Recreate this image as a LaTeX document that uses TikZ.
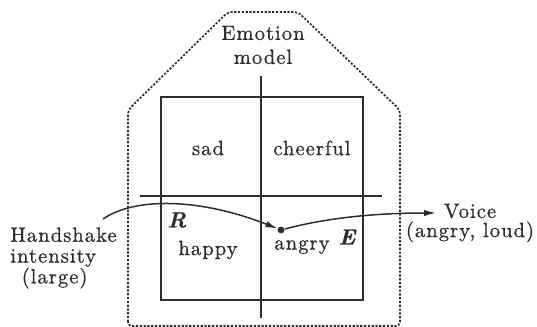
\documentclass[tikz,border=0pt]{standalone}
\usepackage{fontspec}
\setmainfont{Latin Modern Roman}[LetterSpace=5,FakeBold=0.8]
\usepackage{tikz}
\usetikzlibrary{arrows.meta,positioning}
\definecolor{inkdark}{RGB}{45,45,45}

\begin{document}
\begin{tikzpicture}[
  x=0.5pt, y=-0.5pt,
  every node/.style={font=\fontsize{10.3}{12}\selectfont, text=inkdark, inner sep=0pt},
  hull/.style={draw=inkdark, line width=0.85pt, dash pattern=on 1.1pt off 0.8pt, rounded corners=2pt},
  quadline/.style={draw=inkdark, line width=0.9pt},
  sym/.style={font=\fontsize{11}{12}\selectfont\bfseries\itshape},
  arr/.style={-{Latex[length=6pt,width=3.2pt]}, draw=inkdark, line width=0.75pt}
]
  \useasboundingbox (0,0) rectangle (537,327);

  % emotion model outline and quadrants
  \draw[hull] (128,326) -- (128,110) -- (228,12) -- (298,12) -- (400,110) -- (400,326) -- cycle;
  \node[draw=inkdark, line width=0.9pt, minimum width=101pt, minimum height=101.5pt] (model) at (262,198.5) {};
  \draw[quadline] (261,76) -- (261,318);
  \draw[quadline] (140,196) -- (382,196);

  \node[align=center] (title) at (263,45) {Emotion\\model};
  \node (sad)      at (208,148) {sad};
  \node (cheerful) at (312,148) {cheerful};
  \node (happy)    at (208,250) {happy};
  \node (angry)    at (302,247) {angry};
  \node[sym] (R) at (177,220) {R};
  \node[sym] (E) at (347,237) {E};
  \node[circle, fill=inkdark, minimum size=3.4pt] (state) at (281,230) {};

  % input and output
  \node[align=left, anchor=west, font=\fontsize{10.3}{10.4}\selectfont] (intensity) at (10,258)
    {Handshake\\intensity\\\hspace{0.55em}(large)};
  \node[align=center, font=\fontsize{10.3}{9.6}\selectfont] (voice) at (470,223) {Voice\\(angry, loud)};
  \coordinate (hsin) at (103,219);
  \coordinate (voiceout) at (436,213);

  \draw[arr] (hsin) .. controls (135,197) and (200,198) .. (state);
  \draw[arr] (state) .. controls (330,217) and (380,213) .. (voiceout);
\end{tikzpicture}
\end{document}
